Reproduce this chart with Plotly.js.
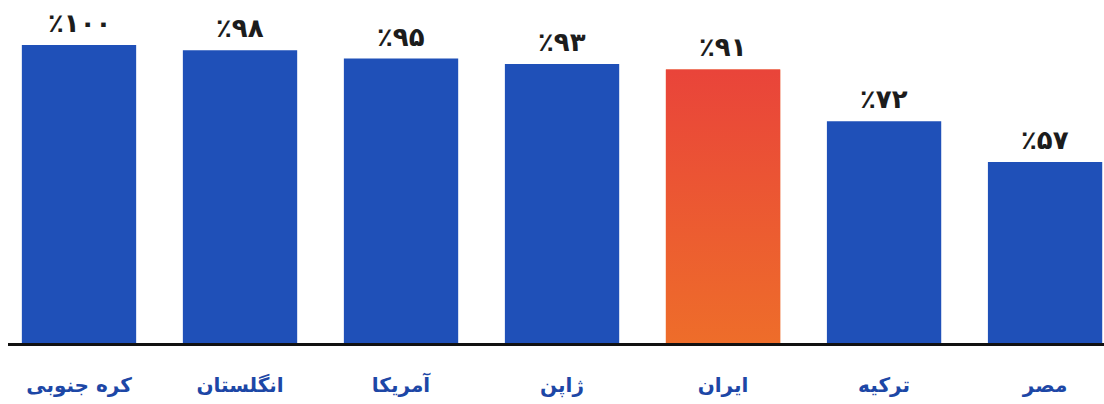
<!DOCTYPE html>
<html>
<head>
<meta charset="utf-8">
<script src="https://cdn.plot.ly/plotly-3.0.1.min.js"></script>
<style>html,body{margin:0;padding:0;background:#fff;}#chart{width:1104px;height:404px;}</style>
</head>
<body>
<div id="chart"></div>
<script>
const categories = ['کره جنوبی','انگلستان','آمریکا','ژاپن','ایران','ترکیه','مصر'];
const values = [100, 98, 95, 93, 91, 72, 57];
const highlight = 'ایران';

const BLUE = '#1f50b8';
const HL_BOTTOM = '#ee6d2a';
const HL_TOP = '#e9443a';
const BASE = -9.5;
const BAR_W = 0.71;

const fa = n => String(n).replace(/\d/g, d => '۰۱۲۳۴۵۶۷۸۹'[+d]);
const idx = categories.map((c, i) => i);
const hi = categories.indexOf(highlight);

const traces = [{
  type: 'bar',
  x: idx,
  y: values.map(v => v - BASE),
  base: BASE,
  width: BAR_W,
  marker: {color: categories.map(c => c === highlight ? HL_BOTTOM : BLUE)},
  hoverinfo: 'skip',
  showlegend: false
}, {
  type: 'scatter',
  mode: 'none',
  x: [hi - BAR_W/2, hi + BAR_W/2, hi + BAR_W/2, hi - BAR_W/2, hi - BAR_W/2],
  y: [BASE, BASE, values[hi], values[hi], BASE],
  fill: 'toself',
  fillgradient: {type: 'vertical', colorscale: [[0, HL_BOTTOM], [1, HL_TOP]]},
  hoverinfo: 'skip',
  showlegend: false
}];

const annotations = categories.map((c, i) => ({
  x: i, y: values[i], xref: 'x', yref: 'y',
  text: '٪' + fa(values[i]),
  showarrow: false, yanchor: 'bottom', yshift: 5,
  font: {family: 'DejaVu Sans', size: 26, color: '#1c1c1c', weight: 'bold'}
}));

const layout = {
  width: 1104, height: 404,
  margin: {l: 8, r: 0, t: 0, b: 61},
  paper_bgcolor: '#fff', plot_bgcolor: '#fff',
  xaxis: {
    range: [-0.441, 6.366],
    tickvals: idx, ticktext: categories,
    showgrid: false, zeroline: false,
    showline: true, linecolor: '#111', linewidth: 3,
    ticks: 'outside', ticklen: 22, tickcolor: 'rgba(0,0,0,0)',
    tickfont: {family: 'DejaVu Sans', size: 20, color: '#1d47a6', weight: 'bold'},
    fixedrange: true
  },
  yaxis: {
    range: [BASE, 116.5],
    visible: false, showgrid: false, zeroline: false, fixedrange: true
  },
  annotations: annotations
};

Plotly.newPlot('chart', traces, layout, {displayModeBar: false, staticPlot: true});
</script>
</body>
</html>
